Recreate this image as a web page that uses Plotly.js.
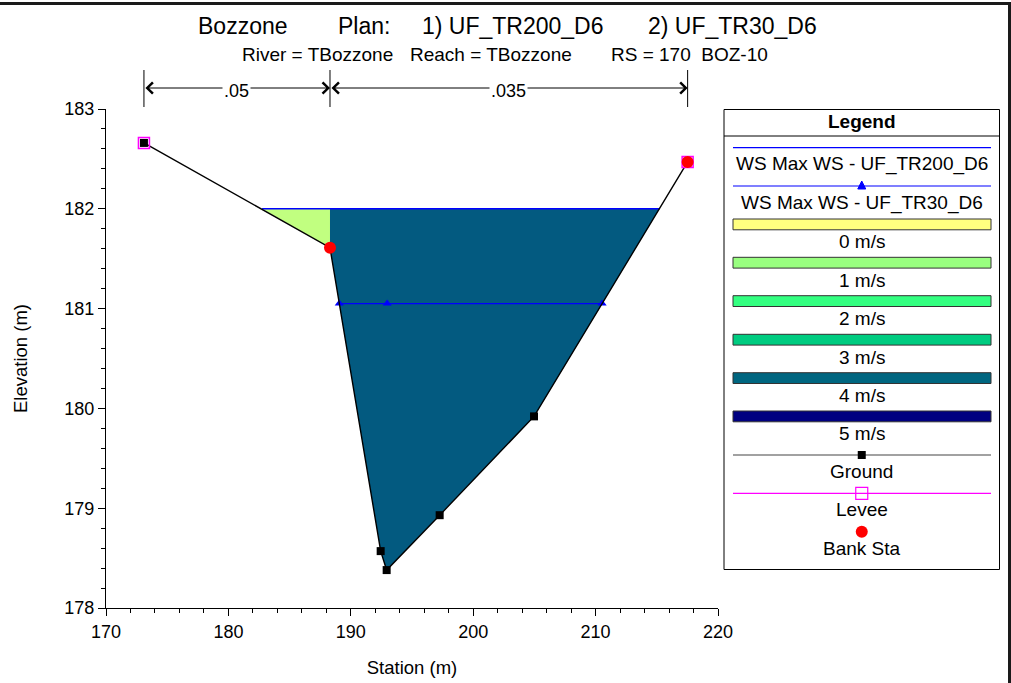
<!DOCTYPE html>
<html>
<head>
<meta charset="utf-8">
<script src="https://cdn.plot.ly/plotly-3.0.1.min.js"></script>
<style>
  html, body { margin: 0; padding: 0; background: #ffffff; }
  #chart { width: 1011px; height: 683px; }
</style>
</head>
<body>
<div id="chart"></div>
<script>
// Cross section BOZ-10 (RS 170), river TBozzone
const groundSta  = [173.10, 188.30, 192.44, 192.93, 197.26, 204.97, 217.52];
const groundElev = [182.66, 181.61, 178.57, 178.38, 178.93, 179.92, 182.47];

const leveeSta  = [173.10, 217.52];
const leveeElev = [182.66, 182.47];

const bankSta  = [188.30, 217.52];
const bankElev = [181.61, 182.47];

// Max water surface, plan UF_TR200_D6
const ws200Sta  = [182.75, 215.21];
const ws200Elev = [182.00, 182.00];

// Max water surface, plan UF_TR30_D6
const ws30Sta  = [189.06, 192.97, 210.53];
const ws30Elev = [181.05, 181.05, 181.05];

// Velocity-coloured flow areas (UF_TR200_D6)
const leftOverbankSta  = [182.75, 188.30, 188.30];
const leftOverbankElev = [182.00, 182.00, 181.61];
const mainChannelSta  = [188.30, 215.21, 204.97, 197.26, 192.93, 192.44, 188.30];
const mainChannelElev = [182.00, 182.00, 179.92, 178.93, 178.38, 178.57, 181.61];

// Manning's n regions
const nValues = ['.05', '.035'];
const nBreaks = [173.10, 188.30, 217.52];

// Legend content
const wsLabels = ['WS Max WS - UF_TR200_D6', 'WS Max WS - UF_TR30_D6'];
const velocityLabels = ['0 m/s', '1 m/s', '2 m/s', '3 m/s', '4 m/s', '5 m/s'];
const velocityColors = ['#ffff80', '#99ff80', '#33ff80', '#00cc80', '#006680', '#000080'];
const markLabels = ['Ground', 'Levee', 'Bank Sta'];

// Header text
const titleParts = ['Bozzone', 'Plan:', '1) UF_TR200_D6', '2) UF_TR30_D6'];
const subtitleParts = ['River = TBozzone', 'Reach = TBozzone', 'RS = 170  BOZ-10'];

const FONT = '"Liberation Sans", Arial, Helvetica, sans-serif';

// plot-area edges in page pixels, used to place the decorations around it
const L = 106, R = 718, T = 109, B = 608;
const W = 1011, H = 683;
const px = x => (x - L) / (R - L);
const py = y => (B - y) / (B - T);

const traces = [
  { x: leftOverbankSta, y: leftOverbankElev, type: 'scatter', mode: 'lines',
    fill: 'toself', fillcolor: '#c1ff80', line: { width: 0 }, hoverinfo: 'skip' },
  { x: mainChannelSta, y: mainChannelElev, type: 'scatter', mode: 'lines',
    fill: 'toself', fillcolor: '#035a80', line: { width: 0 }, hoverinfo: 'skip' },
  { x: ws200Sta, y: ws200Elev, type: 'scatter', mode: 'lines',
    line: { color: '#0000ff', width: 1.6 }, name: wsLabels[0] },
  { x: ws30Sta, y: ws30Elev, type: 'scatter', mode: 'lines+markers',
    line: { color: '#0000ff', width: 1.3 },
    marker: { symbol: 'triangle-up', size: 8, color: '#0000ff' }, name: wsLabels[1] },
  { x: groundSta, y: groundElev, type: 'scatter', mode: 'lines+markers',
    line: { color: '#000000', width: 1.4 },
    marker: { symbol: 'square', size: 8, color: '#000000' }, name: markLabels[0] },
  { x: leveeSta, y: leveeElev, type: 'scatter', mode: 'markers',
    marker: { symbol: 'square-open', size: 11, color: '#ff00ff', line: { width: 1.5 } }, name: markLabels[1] },
  { x: bankSta, y: bankElev, type: 'scatter', mode: 'markers',
    marker: { symbol: 'circle', size: 12, color: '#ff0000' }, name: markLabels[2] }
];

const shapes = [];
const annotations = [];

// page frame (top and right edges)
shapes.push({ type: 'line', xref: 'paper', yref: 'paper', x0: px(0), x1: px(W), y0: py(3.5), y1: py(3.5),
  line: { color: '#1a1a1a', width: 3 } });
shapes.push({ type: 'line', xref: 'paper', yref: 'paper', x0: px(1009.5), x1: px(1009.5), y0: py(2), y1: py(H),
  line: { color: '#1a1a1a', width: 3 } });

// title rows
const titleX = [196, 336, 420, 646];
titleParts.forEach((t, i) => annotations.push({
  text: t, xref: 'paper', yref: 'paper', x: px(titleX[i]), y: py(26), xanchor: 'left', yanchor: 'middle',
  showarrow: false, font: { family: FONT, size: 23, color: '#000' }
}));
const subX = [240, 408, 609];
subtitleParts.forEach((t, i) => annotations.push({
  text: t, xref: 'paper', yref: 'paper', x: px(subX[i]), y: py(55), xanchor: 'left', yanchor: 'middle',
  showarrow: false, font: { family: FONT, size: 19, color: '#000' }
}));

// Manning's n dividers and arrows
nBreaks.forEach(s => shapes.push({ type: 'line', xref: 'x', yref: 'paper', x0: s, x1: s,
  y0: py(70), y1: py(107), line: { color: '#000', width: 1 } }));
nValues.forEach((n, i) => {
  const a = nBreaks[i], b = nBreaks[i + 1];
  annotations.push({ x: b, y: py(88), xref: 'x', yref: 'paper', ax: a, ay: 0, axref: 'x', ayref: 'pixel',
    text: '', showarrow: true, arrowside: 'end+start', arrowhead: 4, startarrowhead: 4,
    arrowsize: 2.2, startarrowsize: 2.2, arrowwidth: 1, arrowcolor: '#000', standoff: 0, startstandoff: 0 });
  annotations.push({ x: (a + b) / 2, y: py(91), xref: 'x', yref: 'paper', yanchor: 'middle', xanchor: 'center',
    text: n, showarrow: false, bgcolor: '#ffffff', borderpad: 1,
    font: { family: FONT, size: 18, color: '#000' } });
});

// legend panel
const LX0 = 724, LX1 = 999.5, LC = (LX0 + LX1) / 2, GX0 = 733, GX1 = 991;
shapes.push({ type: 'rect', xref: 'paper', yref: 'paper', x0: px(LX0), x1: px(LX1), y0: py(109.5), y1: py(569.5),
  line: { color: '#000', width: 1 }, fillcolor: 'rgba(0,0,0,0)' });
shapes.push({ type: 'line', xref: 'paper', yref: 'paper', x0: px(LX0), x1: px(LX1), y0: py(136), y1: py(136),
  line: { color: '#000', width: 1 } });
const legendText = (t, y, bold) => annotations.push({
  text: bold ? '<b>' + t + '</b>' : t, xref: 'paper', yref: 'paper', x: px(LC), y: py(y),
  xanchor: 'center', yanchor: 'middle', showarrow: false, font: { family: FONT, size: 19, color: '#000' }
});
const legendLine = (y, color) => shapes.push({ type: 'line', xref: 'paper', yref: 'paper',
  x0: px(GX0), x1: px(GX1), y0: py(y), y1: py(y), line: { color: color, width: 1.2 } });

legendText('Legend', 121.5, true);
legendLine(147.7, '#0000ff');
legendText(wsLabels[0], 164.5);
legendLine(186, '#0000ff');
shapes.push({ type: 'path', xref: 'paper', yref: 'paper', fillcolor: '#0000ff', line: { color: '#0000ff', width: 1 },
  path: `M${px(LC - 4)},${py(189)} L${px(LC + 4)},${py(189)} L${px(LC)},${py(181)} Z` });
legendText(wsLabels[1], 202.5);

const barTops = [219, 257.3, 295.7, 334.3, 372.7, 411];
velocityLabels.forEach((lab, i) => {
  shapes.push({ type: 'rect', xref: 'paper', yref: 'paper', x0: px(GX0), x1: px(GX1),
    y0: py(barTops[i]), y1: py(barTops[i] + 10.8), fillcolor: velocityColors[i],
    line: { color: '#333333', width: 1 } });
  legendText(lab, barTops[i] + 22.7);
});

legendLine(455, '#444444');
shapes.push({ type: 'rect', xref: 'paper', yref: 'paper', x0: px(LC - 4), x1: px(LC + 4),
  y0: py(451), y1: py(459), fillcolor: '#000', line: { width: 0 } });
legendText(markLabels[0], 471);
legendLine(493.3, '#ff00ff');
shapes.push({ type: 'rect', xref: 'paper', yref: 'paper', x0: px(LC - 6), x1: px(LC + 6),
  y0: py(487.3), y1: py(499.3), fillcolor: 'rgba(0,0,0,0)', line: { color: '#ff00ff', width: 1.2 } });
legendText(markLabels[1], 509.5);
shapes.push({ type: 'circle', xref: 'paper', yref: 'paper', x0: px(LC - 6), x1: px(LC + 6),
  y0: py(525.7), y1: py(537.7), fillcolor: '#ff0000', line: { color: '#ff0000', width: 0 } });
legendText(markLabels[2], 548.5);

const axisCommon = {
  showgrid: false, zeroline: false, showline: true, linecolor: '#000', linewidth: 1,
  ticks: 'outside', ticklen: 7, tickwidth: 1, tickcolor: '#000',
  tickfont: { family: FONT, size: 18, color: '#000' }
};

const layout = {
  width: W, height: H,
  margin: { l: L, r: W - R, t: T, b: H - B, pad: 0 },
  paper_bgcolor: '#ffffff', plot_bgcolor: '#ffffff',
  showlegend: false,
  font: { family: FONT, color: '#000' },
  xaxis: Object.assign({}, axisCommon, {
    range: [170, 220], dtick: 10, tick0: 170,
    minor: { dtick: 2, ticks: 'outside', ticklen: 4, tickcolor: '#000', showgrid: false },
    title: { text: 'Station (m)', font: { family: FONT, size: 18.5, color: '#000' }, standoff: 20 }
  }),
  yaxis: Object.assign({}, axisCommon, {
    range: [178, 183], dtick: 1, tick0: 178,
    minor: { dtick: 0.2, ticks: 'outside', ticklen: 4, tickcolor: '#000', showgrid: false },
    title: { text: 'Elevation (m)', font: { family: FONT, size: 18.5, color: '#000' }, standoff: 31 }
  }),
  shapes: shapes,
  annotations: annotations
};

Plotly.newPlot('chart', traces, layout, { displayModeBar: false, responsive: false });
</script>
</body>
</html>
